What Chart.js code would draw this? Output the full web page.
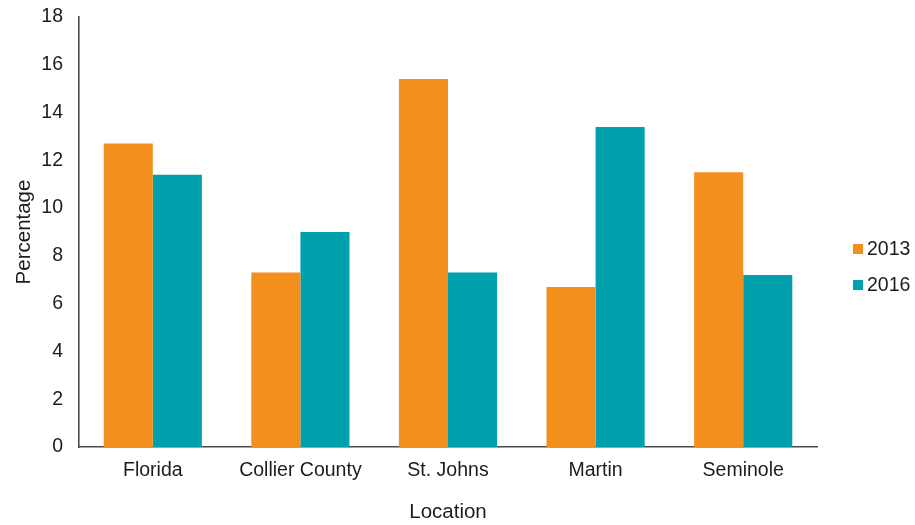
<!DOCTYPE html>
<html>
<head>
<meta charset="utf-8">
<script src="https://cdn.jsdelivr.net/npm/chart.js@4/dist/chart.umd.min.js"></script>
<style>
  html, body { margin: 0; padding: 0; background: #ffffff; }
  #wrap { width: 915px; height: 525px; position: relative; }
</style>
</head>
<body>
<div id="wrap"><canvas id="chart" width="915" height="525"></canvas></div>
<script>
// Share of population by location, 2013 vs 2016 (percent)
const locations = ['Florida', 'Collier County', 'St. Johns', 'Martin', 'Seminole'];
const values2013 = [12.7, 7.3, 15.4, 6.7, 11.5];
const values2016 = [11.4, 9.0, 7.3, 13.4, 7.2];
const seriesNames = ['2013', '2016'];
const yTicks = [0, 2, 4, 6, 8, 10, 12, 14, 16, 18];

const ORANGE = '#F38F1D';
const TEAL = '#00A0AD';
const INK = '#1c1c1c';
const AXIS = '#4a4a4a';
const FONT = "'Liberation Sans', Arial, sans-serif";

// Series key drawn to the right of the plot, one row per dataset
const sideLegend = {
  id: 'sideLegend',
  afterDraw(chart) {
    const ctx = chart.ctx;
    const x = 853, y0 = 249, rowGap = 36, box = 10;
    ctx.save();
    ctx.font = `19.5px ${FONT}`;
    ctx.textBaseline = 'middle';
    ctx.textAlign = 'left';
    chart.data.datasets.forEach((ds, i) => {
      const y = y0 + i * rowGap;
      ctx.fillStyle = ds.backgroundColor;
      ctx.fillRect(x, y - box / 2, box, box);
      ctx.fillStyle = INK;
      ctx.fillText(ds.label, x + box + 4, y + 1);
    });
    ctx.restore();
  }
};

new Chart(document.getElementById('chart'), {
  type: 'bar',
  data: {
    labels: locations,
    datasets: [
      { label: seriesNames[0], data: values2013, backgroundColor: ORANGE, borderWidth: 0 },
      { label: seriesNames[1], data: values2016, backgroundColor: TEAL, borderWidth: 0 }
    ]
  },
  plugins: [sideLegend],
  options: {
    responsive: false,
    animation: false,
    layout: { padding: { left: 4, top: 17, right: 98, bottom: 0 } },
    plugins: {
      tooltip: { enabled: false },
      legend: { display: false }
    },
    datasets: {
      bar: { categoryPercentage: 0.665, barPercentage: 1.0 }
    },
    scales: {
      x: {
        grid: { display: false, drawTicks: false },
        border: { display: true, color: AXIS, width: 1.6 },
        ticks: { color: INK, font: { family: FONT, size: 19.5 }, padding: 12, maxRotation: 0, autoSkip: false },
        title: {
          display: true, text: 'Location', color: INK,
          font: { family: FONT, size: 20.5 }, padding: { top: 12, bottom: 0 }
        },
        afterFit(scale) { scale.height = 78; }
      },
      y: {
        min: 0, max: 18,
        afterBuildTicks(scale) { scale.ticks = yTicks.map(v => ({ value: v })); },
        grid: { display: false, drawTicks: false },
        border: { display: true, color: AXIS, width: 1.6 },
        ticks: { color: INK, font: { family: FONT, size: 19.5 }, padding: 16 },
        title: {
          display: true, text: 'Percentage', color: INK,
          font: { family: FONT, size: 20.5 }, padding: { top: 8, bottom: 0 }
        },
        afterFit(scale) {
          scale.width = 75;
          scale.paddingTop = 0;
          scale.paddingBottom = 0;
        }
      }
    }
  }
});
</script>
</body>
</html>
